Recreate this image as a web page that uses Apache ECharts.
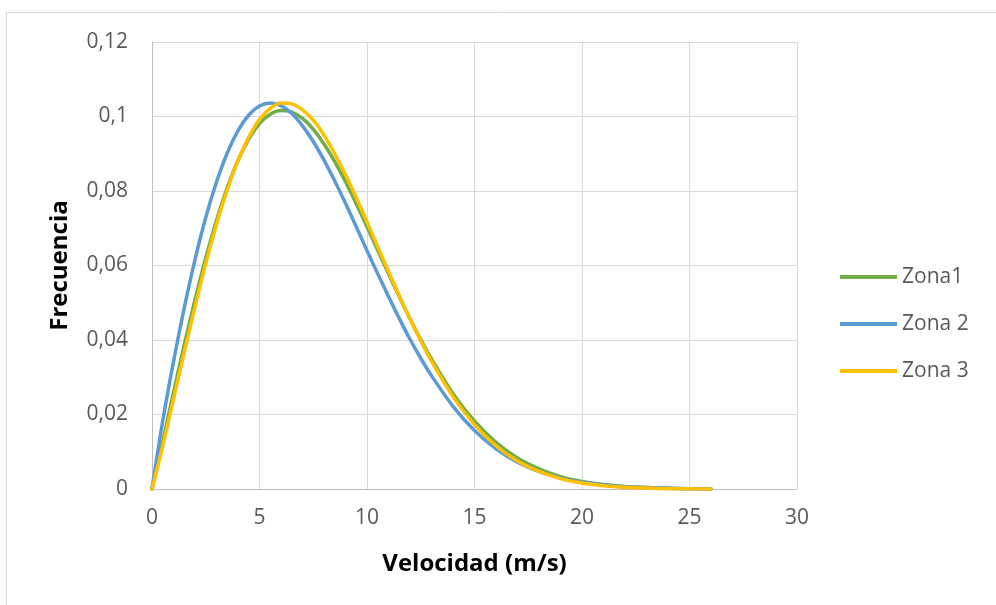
<!DOCTYPE html>
<html>
<head>
<meta charset="utf-8">
<script src="https://cdn.jsdelivr.net/npm/echarts@6/dist/echarts.min.js"></script>
<style>
html,body{margin:0;padding:0;background:#fff;}
#chart{width:996px;height:605px;}
</style>
</head>
<body>
<div id="chart"></div>
<script>
// Velocity (m/s)
const velocidad = [0,0.5,1,1.5,2,2.5,3,3.5,4,4.5,5,5.5,6,6.5,7,7.5,8,8.5,9,9.5,10,10.5,11,11.5,12,12.5,13,14,15,16,17,18,19,20,21,22,23,24,25,26];
// Frequencies
const zona1 = [0,0.0128,0.0259,0.0387,0.0508,0.0620,0.0721,0.0809,0.0882,0.0939,0.0981,0.1006,0.1016,0.1012,0.0995,0.0966,0.0926,0.0879,0.0825,0.0766,0.0704,0.0641,0.0578,0.0516,0.0457,0.0401,0.0349,0.0256,0.0182,0.0125,0.0083,0.0054,0.0033,0.0020,0.0012,0.0007,0.0004,0.0002,0.0001,0.0000];
const zona2 = [0,0.0183,0.0342,0.0486,0.0616,0.0729,0.0824,0.0902,0.0962,0.1004,0.1028,0.1036,0.1029,0.1008,0.0975,0.0933,0.0883,0.0827,0.0767,0.0704,0.0640,0.0578,0.0517,0.0458,0.0402,0.0351,0.0304,0.0222,0.0157,0.0108,0.0072,0.0047,0.0030,0.0018,0.0011,0.0006,0.0004,0.0002,0.0001,0.0001];
const zona3 = [0,0.0115,0.0241,0.0367,0.0489,0.0605,0.0710,0.0803,0.0882,0.0945,0.0992,0.1022,0.1036,0.1034,0.1018,0.0990,0.0950,0.0900,0.0844,0.0782,0.0717,0.0650,0.0584,0.0519,0.0456,0.0398,0.0343,0.0248,0.0173,0.0116,0.0075,0.0047,0.0028,0.0016,0.0009,0.0005,0.0003,0.0001,0.0001,0.0000];
const seriesNames = ['Zona1','Zona 2','Zona 3'];
const xTitle = 'Velocidad (m/s)';
const yTitle = 'Frecuencia';

const FONT = 'Open Sans';
const pairs = arr => velocidad.map((v,i)=>[v,arr[i]]);

const chart = echarts.init(document.getElementById('chart'));
const lineSeries = (name, data, color) => ({
  name, type:'line', data: pairs(data), smooth: 0.3, showSymbol:false, symbol:'none',
  lineStyle:{color, width:3.5, cap:'round', join:'round'}, itemStyle:{color}, animation:false
});
chart.setOption({
  animation:false,
  backgroundColor:'#fff',
  graphic:[{type:'rect', left:4, top:10, shape:{width:1010, height:620}, style:{fill:'none', stroke:'#D9D9D9', lineWidth:1}, silent:true, z:-1}],
  grid:{left:152, right:199, top:42, bottom:116},
  legend:{
    orient:'vertical', left:840, top:266, padding:0, itemWidth:57, itemHeight:4, itemGap:25, icon:'rect',
    textStyle:{fontFamily:FONT, fontSize:21, color:'#595959', lineHeight:22},
    data: seriesNames
  },
  xAxis:{
    type:'value', min:0, max:30, interval:5,
    name:xTitle, nameLocation:'middle', nameGap:63,
    nameTextStyle:{fontFamily:FONT, fontSize:24, fontWeight:'bold', color:'#000'},
    axisLine:{show:true, lineStyle:{color:'#BFBFBF', width:1}},
    axisTick:{show:false},
    axisLabel:{fontFamily:FONT, fontSize:21, color:'#595959', margin:19},
    splitLine:{show:true, lineStyle:{color:'#D9D9D9', width:1}}
  },
  yAxis:{
    type:'value', min:0, max:0.12, interval:0.02,
    name:yTitle, nameLocation:'middle', nameGap:80, nameRotate:90,
    nameTextStyle:{fontFamily:FONT, fontSize:24, fontWeight:'bold', color:'#000'},
    axisLine:{show:true, lineStyle:{color:'#BFBFBF', width:1}},
    axisTick:{show:false},
    axisLabel:{fontFamily:FONT, fontSize:21, color:'#595959', margin:24,
      formatter: v => (Math.round(v*100)/100).toString().replace('.', ',')},
    splitLine:{show:true, lineStyle:{color:'#D9D9D9', width:1}}
  },
  series:[
    lineSeries(seriesNames[0], zona1, '#70AD47'),
    lineSeries(seriesNames[1], zona2, '#5B9BD5'),
    lineSeries(seriesNames[2], zona3, '#FFC000')
  ]
});
</script>
</body>
</html>
